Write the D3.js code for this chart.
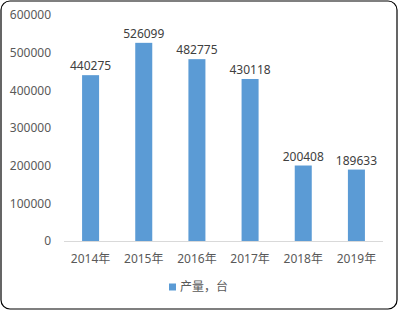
<!DOCTYPE html>
<html>
<head>
<meta charset="utf-8">
<script src="https://d3js.org/d3.v7.min.js"></script>
<style>
  body { margin: 0; background: #fff; }
  text { font-family: "Noto Sans", "Noto Sans CJK SC", sans-serif; }
</style>
</head>
<body>
<script>
  const years = ["2014年", "2015年", "2016年", "2017年", "2018年", "2019年"];
  const output = [440275, 526099, 482775, 430118, 200408, 189633];
  const yTicks = [0, 100000, 200000, 300000, 400000, 500000, 600000];
  const seriesName = "产量，台";

  const width = 398, height = 310;
  const margin = {left: 64, right: 15, top: 15, bottom: 69};

  const svg = d3.select("body").append("svg")
    .attr("width", width)
    .attr("height", height);

  svg.append("rect")
    .attr("x", 1).attr("y", 1)
    .attr("width", width - 2).attr("height", height - 2)
    .attr("rx", 9)
    .attr("fill", "#fff")
    .attr("stroke", "#000")
    .attr("stroke-width", 1.2);

  const x = d3.scaleBand()
    .domain(years)
    .range([margin.left, width - margin.right]);

  const y = d3.scaleLinear()
    .domain([0, 600000])
    .range([height - margin.bottom, margin.top]);

  const barW = x.bandwidth() * 0.32;

  // y tick labels
  svg.append("g")
    .selectAll("text")
    .data(yTicks)
    .join("text")
    .attr("x", 51)
    .attr("y", d => y(d))
    .attr("dy", "0.35em")
    .attr("text-anchor", "end")
    .attr("font-size", 12)
    .attr("fill", "#595959")
    .text(d => d);

  // bars
  svg.append("g")
    .selectAll("rect")
    .data(output)
    .join("rect")
    .attr("x", (d, i) => x(years[i]) + x.bandwidth() / 2 - barW / 2)
    .attr("y", d => y(d))
    .attr("width", barW)
    .attr("height", d => y(0) - y(d))
    .attr("fill", "#5B9BD5");

  // value labels
  svg.append("g")
    .selectAll("text")
    .data(output)
    .join("text")
    .attr("x", (d, i) => x(years[i]) + x.bandwidth() / 2)
    .attr("y", d => y(d) - 5)
    .attr("text-anchor", "middle")
    .attr("font-size", 12)
    .attr("fill", "#404040")
    .text(d => d);

  // x axis line
  svg.append("line")
    .attr("x1", margin.left).attr("x2", width - margin.right)
    .attr("y1", y(0) + 0.5).attr("y2", y(0) + 0.5)
    .attr("stroke", "#d9d9d9")
    .attr("stroke-width", 1);

  // x labels
  svg.append("g")
    .selectAll("text")
    .data(years)
    .join("text")
    .attr("x", d => x(d) + x.bandwidth() / 2)
    .attr("y", y(0) + 18)
    .attr("dy", "0.35em")
    .attr("text-anchor", "middle")
    .attr("font-size", 12)
    .attr("fill", "#595959")
    .text(d => d);

  // legend
  const legend = svg.append("g").attr("transform", "translate(169,287)");
  legend.append("rect")
    .attr("x", 0).attr("y", -3.5)
    .attr("width", 7).attr("height", 7)
    .attr("fill", "#5B9BD5");
  legend.append("text")
    .attr("x", 11).attr("y", 0)
    .attr("dy", "0.35em")
    .attr("font-size", 12)
    .attr("fill", "#595959")
    .text(seriesName);
</script>
</body>
</html>
